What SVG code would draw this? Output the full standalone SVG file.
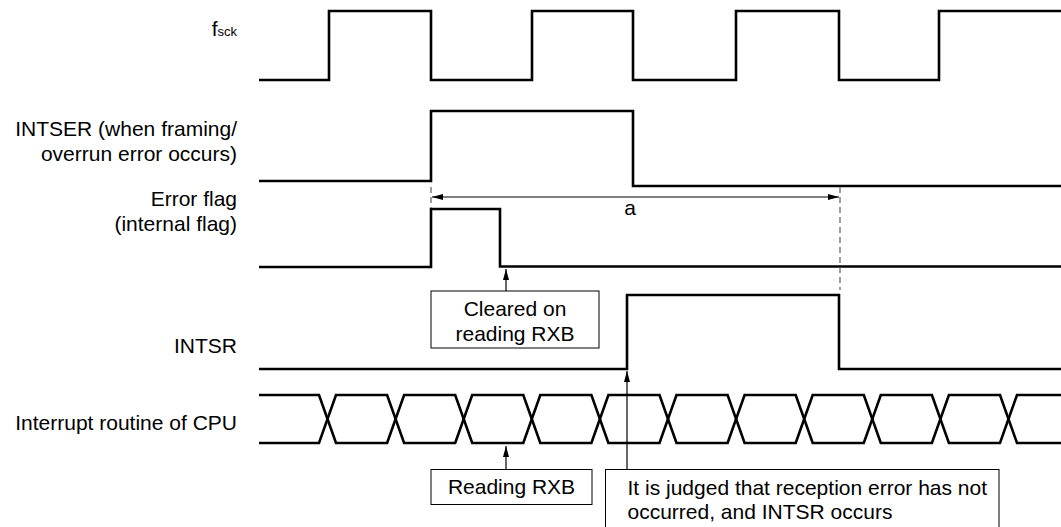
<svg xmlns="http://www.w3.org/2000/svg" width="1061" height="527" viewBox="0 0 1061 527">
<defs>
<style>
text{font-family:"Liberation Sans",Arial,sans-serif;font-size:21px;fill:#000}
.lbl{text-anchor:end}
.sig{fill:none;stroke:#000;stroke-width:2.6;stroke-linejoin:miter}
.box{fill:#fff;stroke:#000;stroke-width:1}
.arr{fill:none;stroke:#000;stroke-width:1.2}
.dash{fill:none;stroke:#6a6a6a;stroke-width:1.3;stroke-dasharray:6,4}
.mid{text-anchor:middle}
</style>
<marker id="ah" viewBox="0 0 11 6" refX="11" refY="3" markerWidth="11" markerHeight="6" markerUnits="userSpaceOnUse" orient="auto-start-reverse">
<path d="M0,0 L11,3 L0,6 Z" fill="#000"/>
</marker>
</defs>
<rect width="1061" height="527" fill="#fff"/>

<g id="fsck">
<text class="lbl" x="237" y="36">f<tspan font-size="13">sck</tspan></text>
<path class="sig" d="M259,80 H329 V11 H431 V80 H532 V11 H633 V80 H736 V11 H839 V80 H939 V11 H1061"/>
</g>

<g id="intser">
<text class="lbl" x="237" y="136">INTSER (when framing/</text>
<text class="lbl" x="237" y="161">overrun error occurs)</text>
<path class="sig" d="M259,181 H431 V111 H633 V186 H1061"/>
</g>

<g id="errorflag">
<text class="lbl" x="237" y="206">Error flag</text>
<text class="lbl" x="237" y="231">(internal flag)</text>
<path class="sig" d="M259,267 H431 V209 H500 V266.5 H1061"/>
</g>

<g id="intsr">
<text class="lbl" x="237" y="353">INTSR</text>
<path class="sig" d="M259,369 H627 V295 H839 V369 H1061"/>
</g>

<g id="cpu">
<text class="lbl" x="237" y="430">Interrupt routine of CPU</text>
<path class="sig" d="M259,395 H319 L336,443 H387.1 L404.1,395 H455.2 L472.2,443 H523.3 L540.3,395 H591.4 L608.4,443 H659.5 L676.5,395 H727.6 L744.6,443 H795.7 L812.7,395 H863.8 L880.8,443 H931.9 L948.9,395 H1000 L1017,443 H1061"/>
<path class="sig" d="M259,443 H319 L336,395 H387.1 L404.1,443 H455.2 L472.2,395 H523.3 L540.3,443 H591.4 L608.4,395 H659.5 L676.5,443 H727.6 L744.6,395 H795.7 L812.7,443 H863.8 L880.8,395 H931.9 L948.9,443 H1000 L1017,395 H1061"/>
</g>

<g id="dim-a">
<path class="dash" d="M431,187 V208"/>
<path class="dash" d="M840,187 V290"/>
<path class="arr" d="M432,197 H839" marker-start="url(#ah)" marker-end="url(#ah)"/>
<text class="mid" x="630" y="215">a</text>
</g>

<g id="box-cleared">
<rect class="box" x="431" y="291" width="168" height="57"/>
<text class="mid" x="515" y="316">Cleared on</text>
<text class="mid" x="515" y="341">reading RXB</text>
</g>

<g id="box-reading">
<rect class="box" x="431" y="469.5" width="161" height="35"/>
<text class="mid" x="511.5" y="494">Reading RXB</text>
</g>

<g id="box-judged">
<rect class="box" x="605.5" y="469.5" width="393.5" height="80"/>
<text x="627.5" y="495">It is judged that reception error has not</text>
<text x="627.5" y="519">occurred, and INTSR occurs</text>
</g>

<g id="connectors">
<path class="arr" d="M506,291 V269" marker-end="url(#ah)"/>
<path class="arr" d="M506,469.5 V446" marker-end="url(#ah)"/>
<path class="arr" d="M627,469.5 V371" marker-end="url(#ah)"/>
</g>
</svg>
